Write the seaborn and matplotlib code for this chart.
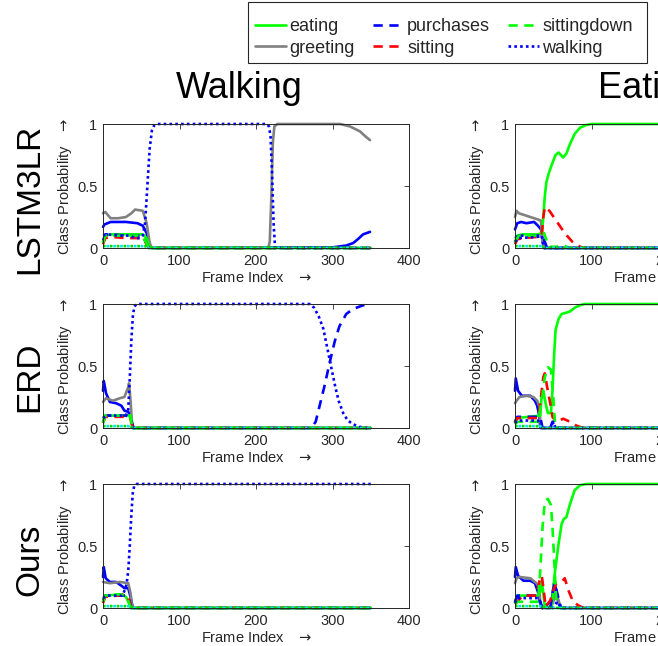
import matplotlib
matplotlib.use("Agg")
import matplotlib.pyplot as plt
from matplotlib.patches import Rectangle
import seaborn as sns

sns.set_theme(style="white")
plt.rcParams["font.family"] = ["Liberation Sans", "DejaVu Sans"]
plt.rcParams["mathtext.fontset"] = "dejavusans"

# ---------------- data (frame index, class probability) ----------------
methods = ["LSTM3LR", "ERD", "Ours"]
actions = ["Walking", "Eating"]
legend_classes = ["eating", "greeting", "purchases", "sitting", "sittingdown", "walking"]
x_ticks = [0, 100, 200, 300, 400]
y_ticks = [0, 0.5, 1]
y_tick_labels = ["0", "0.5", "1"]

# LSTM3LR - Walking
LW_directions = ([0, 2, 10, 30, 45, 52, 57, 61, 64, 300, 318, 327, 333, 340, 349],
                 [0.17, 0.19, 0.21, 0.21, 0.2, 0.18, 0.12, 0.02, 0, 0.005, 0.02, 0.04, 0.07, 0.11, 0.13])
LW_greeting = ([0, 3, 10, 20, 30, 37, 42, 52, 57, 61, 64, 216, 218, 220, 222, 224, 228, 310, 323, 336, 343, 349],
               [0.28, 0.29, 0.24, 0.24, 0.25, 0.28, 0.31, 0.3, 0.2, 0.04, 0, 0, 0.05, 0.4, 0.85, 0.98, 1, 1, 0.98, 0.94, 0.9, 0.87])
LW_eating = ([0, 3, 10, 30, 52, 57, 60, 63, 350], [0.05, 0.1, 0.11, 0.11, 0.11, 0.08, 0.02, 0, 0])
LW_purchases = ([0, 3, 10, 30, 50, 55, 60, 350], [0.06, 0.11, 0.11, 0.1, 0.1, 0.06, 0, 0])
LW_sitting = ([0, 3, 10, 30, 50, 55, 60, 350], [0.03, 0.08, 0.09, 0.08, 0.08, 0.05, 0, 0])
LW_sittingdown = ([0, 3, 10, 30, 50, 55, 60, 350], [0.04, 0.1, 0.1, 0.1, 0.1, 0.06, 0, 0])
LW_walking = ([0, 5, 20, 35, 42, 48, 52, 55, 58, 61, 64, 67, 70, 214, 217, 219, 221, 223, 225, 350],
              [0.1, 0.11, 0.1, 0.1, 0.08, 0.08, 0.1, 0.2, 0.5, 0.8, 0.95, 0.99, 1, 1, 0.98, 0.9, 0.6, 0.2, 0, 0])
LW_other = ([0, 55, 60, 350], [0.015, 0.015, 0, 0])

# LSTM3LR - Eating
LE_directions = ([0, 3, 8, 15, 25, 30, 34, 36, 38, 350], [0.15, 0.2, 0.21, 0.2, 0.21, 0.18, 0.15, 0.05, 0, 0])
LE_greeting = ([0, 2, 5, 10, 20, 30, 34, 36, 38, 350], [0.25, 0.3, 0.28, 0.27, 0.25, 0.23, 0.22, 0.05, 0, 0])
LE_eating = ([0, 3, 10, 30, 35, 37, 39, 41, 44, 48, 53, 57, 60, 63, 67, 72, 78, 85, 92, 100, 350],
             [0.05, 0.1, 0.11, 0.11, 0.12, 0.25, 0.42, 0.53, 0.6, 0.67, 0.75, 0.77, 0.75, 0.73, 0.76, 0.84, 0.92, 0.97, 0.99, 1, 1])
LE_purchases = ([0, 5, 30, 36, 39, 42, 350], [0.08, 0.1, 0.1, 0.1, 0.05, 0, 0])
LE_sitting = ([0, 3, 10, 30, 35, 37, 39, 45, 55, 65, 75, 85, 90, 350],
              [0.03, 0.07, 0.08, 0.09, 0.1, 0.25, 0.33, 0.3, 0.21, 0.12, 0.05, 0.01, 0, 0])
LE_sittingdown = ([0, 5, 30, 38, 42, 45, 55, 60, 65, 70, 350], [0.05, 0.1, 0.1, 0.12, 0.05, 0.01, 0.01, 0.02, 0.02, 0, 0])
LE_walking = ([0, 5, 30, 35, 38, 350], [0.05, 0.08, 0.09, 0.1, 0, 0])
LE_other = ([0, 35, 40, 350], [0.015, 0.015, 0, 0])

# ERD - Walking
EW_directions = ([0, 1, 4, 9, 17, 24, 28, 33, 36, 39, 350], [0.3, 0.38, 0.28, 0.21, 0.2, 0.18, 0.14, 0.13, 0.1, 0, 0])
EW_greeting = ([0, 4, 13, 22, 28, 33, 34, 36, 38, 40, 350], [0.21, 0.24, 0.22, 0.24, 0.25, 0.33, 0.36, 0.22, 0.03, 0, 0])
EW_eating = ([0, 2, 36, 39, 350], [0.05, 0.1, 0.1, 0, 0])
EW_purchases = ([0, 5, 30, 36, 40, 272, 278, 284, 290, 296, 303, 309, 318, 327, 340, 342],
                [0.08, 0.1, 0.1, 0.08, 0, 0, 0.05, 0.2, 0.35, 0.52, 0.7, 0.82, 0.92, 0.96, 0.99, 0.99])
EW_sitting = ([0, 3, 35, 39, 350], [0.04, 0.09, 0.09, 0, 0])
EW_sittingdown = ([0, 3, 35, 39, 350], [0.04, 0.1, 0.1, 0, 0])
EW_walking = ([0, 5, 30, 33, 35, 37, 39, 41, 44, 270, 276, 282, 288, 293, 298, 303, 308, 314, 320, 327, 335, 344, 350],
              [0.08, 0.1, 0.1, 0.15, 0.4, 0.7, 0.9, 0.98, 1, 1, 0.97, 0.9, 0.8, 0.65, 0.5, 0.35, 0.22, 0.12, 0.06, 0.03, 0.01, 0, 0])
EW_other = ([0, 35, 40, 350], [0.015, 0.015, 0, 0])

# ERD - Eating
EE_directions = ([0, 1, 4, 9, 20, 26, 29, 32, 33, 350], [0.3, 0.4, 0.3, 0.26, 0.26, 0.22, 0.18, 0.09, 0, 0])
EE_greeting = ([0, 2, 6, 15, 24, 29, 32, 33, 35, 350], [0.2, 0.22, 0.25, 0.26, 0.25, 0.22, 0.17, 0.06, 0, 0])
EE_eating = ([0, 2, 33, 35, 37, 40, 43, 47, 49, 51, 53, 57, 61, 67, 72, 78, 85, 91, 350],
             [0.05, 0.08, 0.1, 0.28, 0.3, 0.2, 0.12, 0.12, 0.3, 0.57, 0.79, 0.88, 0.92, 0.93, 0.94, 0.97, 0.99, 1, 1])
EE_purchases = ([0, 3, 33, 36, 46, 49, 52, 350], [0.05, 0.09, 0.09, 0, 0, 0.05, 0, 0])
EE_sitting = ([0, 3, 30, 33, 37, 39, 42, 46, 49, 54, 63, 72, 80, 89, 350],
              [0.04, 0.08, 0.08, 0.2, 0.41, 0.44, 0.33, 0.2, 0.09, 0.05, 0.075, 0.05, 0.02, 0, 0])
EE_sittingdown = ([0, 3, 30, 35, 39, 43, 47, 50, 52, 54, 350], [0.03, 0.05, 0.05, 0.22, 0.41, 0.49, 0.47, 0.25, 0.06, 0, 0])
EE_walking = ([0, 3, 30, 34, 47, 50, 53, 350], [0.04, 0.06, 0.06, 0, 0, 0.05, 0, 0])
EE_other = ([0, 33, 36, 350], [0.015, 0.015, 0, 0])

# Ours - Walking
OW_directions = ([0, 1, 3.5, 9, 17, 24, 28, 33, 36, 39, 350], [0.25, 0.33, 0.24, 0.21, 0.21, 0.18, 0.16, 0.16, 0.09, 0, 0])
OW_greeting = ([0, 9, 22, 33, 36, 38, 40, 350], [0.21, 0.2, 0.21, 0.2, 0.12, 0.01, 0, 0])
OW_eating = ([0, 2, 25, 30, 37, 350], [0.05, 0.1, 0.11, 0.09, 0, 0])
OW_purchases = ([0, 3, 30, 34, 37, 350], [0.06, 0.1, 0.1, 0.08, 0, 0])
OW_sitting = ([0, 3, 20, 28, 33, 37, 350], [0.04, 0.09, 0.1, 0.11, 0.08, 0, 0])
OW_sittingdown = ([0, 3, 20, 28, 33, 36, 350], [0.05, 0.1, 0.11, 0.1, 0.06, 0, 0])
OW_walking = ([0, 5, 25, 29, 31, 33, 35, 37, 39, 41, 44, 350], [0.08, 0.1, 0.1, 0.15, 0.2, 0.3, 0.5, 0.75, 0.93, 0.99, 1, 1])
OW_other = ([0, 35, 40, 350], [0.015, 0.015, 0, 0])

# Ours - Eating
OE_directions = ([0, 1, 4, 11, 20, 26, 30, 33, 36, 48, 51, 53, 57, 60, 350],
                 [0.25, 0.33, 0.26, 0.22, 0.22, 0.2, 0.13, 0.035, 0, 0.06, 0.2, 0.17, 0.035, 0, 0])
OE_greeting = ([0, 2, 6, 20, 28, 32, 33, 35, 46, 50, 53, 57, 60, 350],
               [0.2, 0.24, 0.25, 0.24, 0.2, 0.16, 0.035, 0, 0, 0.05, 0.12, 0.06, 0, 0])
OE_eating = ([0, 3, 30, 33, 35, 37, 39, 48, 52, 57, 61, 64, 67, 72, 78, 85, 93, 350],
             [0.05, 0.1, 0.1, 0.13, 0.22, 0.12, 0.01, 0.01, 0.28, 0.52, 0.68, 0.72, 0.73, 0.84, 0.95, 0.99, 1, 1])
OE_purchases = ([0, 3, 30, 33, 36, 46, 50, 52, 56, 60, 350], [0.05, 0.1, 0.1, 0.05, 0, 0, 0.15, 0.2, 0.1, 0, 0])
OE_sitting = ([0, 3, 10, 28, 33, 35, 38, 40, 46, 50, 54, 61, 65, 70, 76, 83, 90, 350],
              [0.03, 0.05, 0.1, 0.1, 0.25, 0.26, 0.12, 0.01, 0.06, 0.14, 0.2, 0.21, 0.24, 0.14, 0.05, 0.02, 0, 0])
OE_sittingdown = ([0, 3, 30, 33, 36, 39, 43, 47, 49, 52, 54, 56, 350],
                  [0.03, 0.05, 0.05, 0.3, 0.65, 0.86, 0.88, 0.83, 0.65, 0.3, 0.06, 0, 0])
OE_walking = ([0, 3, 30, 33, 36, 50, 55, 62, 350], [0.04, 0.08, 0.08, 0.05, 0, 0, 0.05, 0, 0])
OE_other = ([0, 35, 40, 350], [0.015, 0.015, 0, 0])

panels = [
    [dict(directions=LW_directions, greeting=LW_greeting, eating=LW_eating, purchases=LW_purchases,
          sitting=LW_sitting, sittingdown=LW_sittingdown, walking=LW_walking, other=LW_other),
     dict(directions=LE_directions, greeting=LE_greeting, eating=LE_eating, purchases=LE_purchases,
          sitting=LE_sitting, sittingdown=LE_sittingdown, walking=LE_walking, other=LE_other)],
    [dict(directions=EW_directions, greeting=EW_greeting, eating=EW_eating, purchases=EW_purchases,
          sitting=EW_sitting, sittingdown=EW_sittingdown, walking=EW_walking, other=EW_other),
     dict(directions=EE_directions, greeting=EE_greeting, eating=EE_eating, purchases=EE_purchases,
          sitting=EE_sitting, sittingdown=EE_sittingdown, walking=EE_walking, other=EE_other)],
    [dict(directions=OW_directions, greeting=OW_greeting, eating=OW_eating, purchases=OW_purchases,
          sitting=OW_sitting, sittingdown=OW_sittingdown, walking=OW_walking, other=OW_other),
     dict(directions=OE_directions, greeting=OE_greeting, eating=OE_eating, purchases=OE_purchases,
          sitting=OE_sitting, sittingdown=OE_sittingdown, walking=OE_walking, other=OE_other)],
]

# ---------------- styles ----------------
DASH = (0, (3.5, 2.5))
DOT = (0, (1, 1.2))
styles = {
    "directions": ("#0000ff", "-"),
    "greeting": ("#808080", "-"),
    "eating": ("#00ff00", "-"),
    "purchases": ("#0000ff", DASH),
    "sitting": ("#ff0000", DASH),
    "sittingdown": ("#00ff00", DASH),
    "walking": ("#0000ff", DOT),
}
draw_order = ["directions", "greeting", "eating", "purchases", "sitting", "sittingdown", "walking"]
LW = 1.9
AX_COLOR = "#262626"
ARROW = r"$\rightarrow$"

W, H = 658, 646
fig = plt.figure(figsize=(W / 100, H / 100), dpi=100)

col_left = [103, 515]
row_top = [124, 304, 484]
ax_w, ax_h = 306, 124

legend_handles = {}
for r in range(3):
    for c in range(2):
        ax = fig.add_axes([col_left[c] / W, 1 - (row_top[r] + ax_h) / H, ax_w / W, ax_h / H])
        data = panels[r][c]
        for name in draw_order:
            f, v = data[name]
            color, ls = styles[name]
            sns.lineplot(x=f, y=v, ax=ax, color=color, linestyle=ls, linewidth=LW,
                         estimator=None, sort=False, legend=False, clip_on=False)
            if name in legend_classes and name not in legend_handles:
                legend_handles[name] = ax.lines[-1]
        f, v = data["other"]
        sns.lineplot(x=f, y=v, ax=ax, color="#00dd00", linestyle=(0, (1, 1.6)), linewidth=LW,
                     estimator=None, sort=False, legend=False, clip_on=False)
        sns.lineplot(x=f, y=v, ax=ax, color="#00e5e5", linestyle=(1.3, (1, 1.6)), linewidth=LW,
                     estimator=None, sort=False, legend=False, clip_on=False)
        ax.set_xlim(0, 400)
        ax.set_ylim(0, 1)
        ax.set_xticks(x_ticks)
        ax.set_yticks(y_ticks)
        ax.set_yticklabels(y_tick_labels)
        ax.tick_params(direction="in", top=True, right=True, length=3.5, width=0.6,
                       labelsize=10.5, colors=AX_COLOR, pad=4)
        for sp in ax.spines.values():
            sp.set_color(AX_COLOR)
            sp.set_linewidth(0.7)
        ax.set_xlabel("Frame Index   " + ARROW, fontsize=10.5, color=AX_COLOR, labelpad=2)
        ax.set_ylabel("Class Probability   " + ARROW, fontsize=10.5, color=AX_COLOR, labelpad=2)
        ax.grid(False)

# titles & row labels
fig.text(239 / W, 1 - 89 / H, actions[0], fontsize=26, ha="center", va="center", color="black")
fig.text(649 / W, 1 - 89 / H, actions[1], fontsize=26, ha="center", va="center", color="black")
for r, (m, yc) in enumerate(zip(methods, [199, 377, 560])):
    fig.text(30 / W, 1 - yc / H, m, fontsize=24, rotation=90, ha="center", va="center", color="black")

# legend (frame drawn as a separate box to match the original proportions)
handles = [legend_handles[n] for n in legend_classes]
leg = fig.legend(handles, legend_classes, ncol=3, loc="upper left",
                 bbox_to_anchor=(255 / W, 1 - 18 / H), fontsize=13, frameon=False,
                 handlelength=1.7, handletextpad=0.2, columnspacing=1.0, labelspacing=0.25,
                 borderpad=0, borderaxespad=0)
fig.patches.append(Rectangle((248 / W, 1 - 63 / H), 399 / W, 61 / H, transform=fig.transFigure,
                             fill=False, edgecolor=AX_COLOR, linewidth=0.8))

fig.savefig("out.png", dpi=100)
